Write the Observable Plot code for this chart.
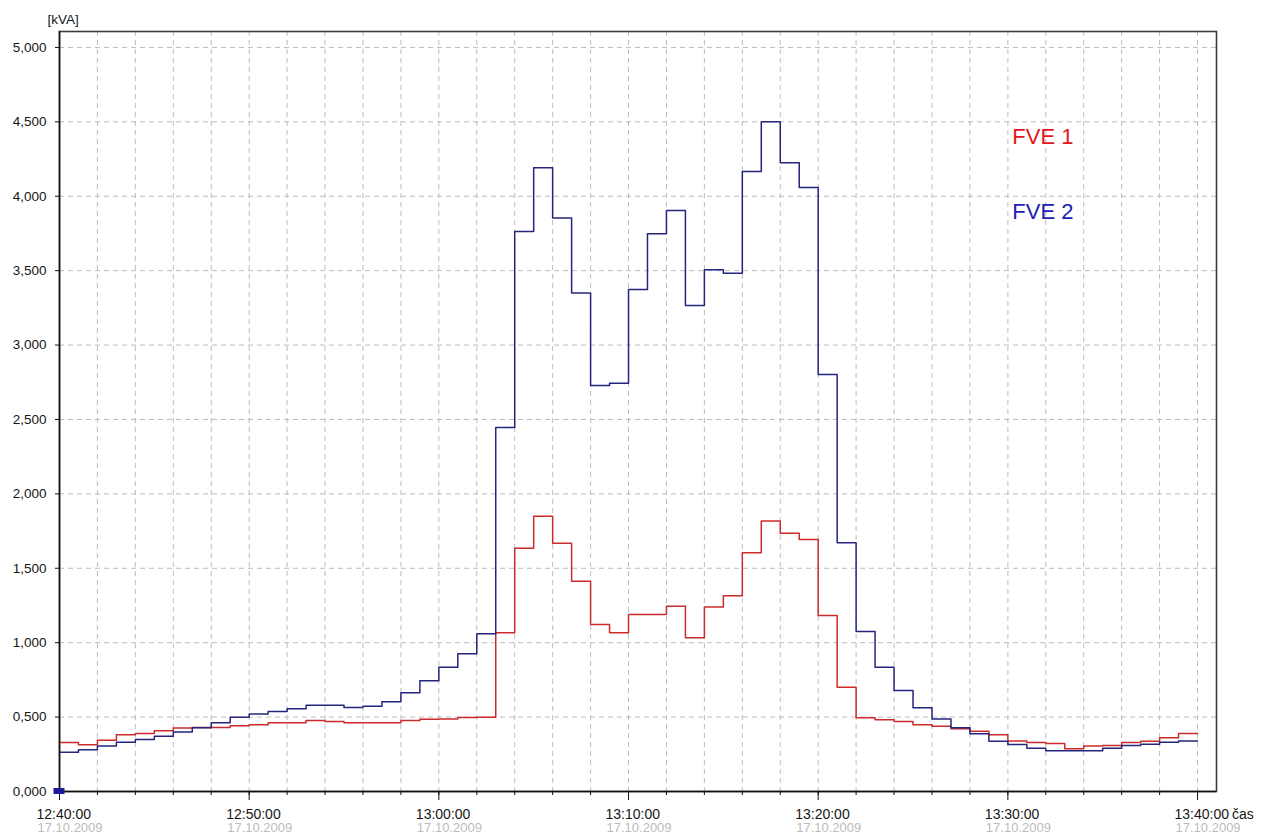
<!DOCTYPE html>
<html>
<head>
<meta charset="utf-8">
<script src="https://cdn.jsdelivr.net/npm/d3@7"></script>
<script src="https://cdn.jsdelivr.net/npm/@observablehq/plot@0.6"></script>
<style>
  html, body { margin: 0; padding: 0; background: #ffffff; }
  #chart svg { display: block; }
</style>
</head>
<body>
<div id="chart"></div>
<script>
// One-minute apparent power readings, 17.10.2009, 12:40 – 13:40
const startTime = "2009-10-17T12:40:00Z";
const stepMinutes = 1;

// FVE 1 (values in the axis unit, one per minute)
const fve1 = [
  0.329, 0.314, 0.345, 0.381, 0.390, 0.408, 0.426, 0.430, 0.430, 0.441,
  0.448, 0.462, 0.462, 0.477, 0.470, 0.462, 0.462, 0.462, 0.477, 0.486,
  0.488, 0.497, 0.499, 1.066, 1.635, 1.850, 1.669, 1.413, 1.122, 1.066,
  1.190, 1.190, 1.245, 1.033, 1.239, 1.315, 1.604, 1.817, 1.736, 1.694,
  1.183, 0.701, 0.495, 0.482, 0.470, 0.448, 0.439, 0.421, 0.405, 0.381,
  0.340, 0.329, 0.322, 0.287, 0.305, 0.309, 0.329, 0.338, 0.361, 0.390
];

// FVE 2
const fve2 = [
  0.264, 0.280, 0.305, 0.331, 0.349, 0.372, 0.399, 0.428, 0.462, 0.499,
  0.520, 0.538, 0.556, 0.580, 0.580, 0.565, 0.573, 0.603, 0.663, 0.744,
  0.835, 0.925, 1.060, 2.446, 3.763, 4.191, 3.853, 3.349, 2.728, 2.744,
  3.374, 3.748, 3.905, 3.266, 3.506, 3.483, 4.167, 4.500, 4.225, 4.059,
  2.802, 1.671, 1.075, 0.835, 0.679, 0.562, 0.488, 0.428, 0.388, 0.338,
  0.316, 0.291, 0.273, 0.273, 0.273, 0.291, 0.309, 0.318, 0.331, 0.340
];

const seriesNames = ["FVE 1", "FVE 2"];
const yTicks = [0, 0.5, 1, 1.5, 2, 2.5, 3, 3.5, 4, 4.5, 5];
const unitLabel = "[kVA]";
const timeAxisLabel = "čas";
const dateLabel = "17.10.2009";
const cursorMark = [{ t: startTime, v: 0 }];

// ---- build tables ----
const t0 = new Date(startTime);
const at = (m) => new Date(+t0 + m * 60000);

function stepRows(name, values) {
  const rows = values.map((v, i) => ({ series: name, t: at(i * stepMinutes), v }));
  // close the last interval at its end time
  rows.push({ series: name, t: at(values.length * stepMinutes), v: values[values.length - 1] });
  return rows;
}
const rows1 = stepRows(seriesNames[0], fve1);
const rows2 = stepRows(seriesNames[1], fve2);

const minorTicks = d3.utcMinute.every(2).range(t0, at(61));
const majorTicks = d3.utcMinute.every(10).range(t0, at(61));
const gridTimes = minorTicks.filter(d => +d > +t0);

const fmtY = d => d3.format(".3f")(d).replace(".", ",");
const fmtT = d3.utcFormat("%H:%M:%S");

const red = "#cc2b2b";
const navy = "#25257f";
const gridStyle = { stroke: "#bdbdbd", strokeOpacity: 1, strokeWidth: 1, strokeDasharray: "5,4" };

const chart = Plot.plot({
  width: 1265,
  height: 834,
  marginLeft: 59,
  marginRight: 49,
  marginTop: 31,
  marginBottom: 43,
  style: {
    fontFamily: "'Liberation Sans', Arial, sans-serif",
    fontSize: "13.5px",
    color: "#161616",
    background: "#ffffff",
    overflow: "visible"
  },
  x: { type: "utc", domain: [t0, at(61)] },
  y: { domain: [0, 5.107] },
  marks: [
    Plot.gridX(gridTimes, gridStyle),
    Plot.gridY(yTicks.filter(d => d > 0), gridStyle),
    Plot.frame({ stroke: "#3c3c3c", strokeWidth: 1.6 }),
    Plot.line(rows1, { x: "t", y: "v", curve: "step-after", stroke: red, strokeWidth: 1.5 }),
    Plot.line(rows2, { x: "t", y: "v", curve: "step-after", stroke: navy, strokeWidth: 1.5 }),
    Plot.ruleX([t0], { stroke: "#111", strokeWidth: 1.5 }),
    Plot.ruleY([0], { stroke: "#111", strokeWidth: 1.5 }),
    Plot.axisY({ ticks: yTicks, tickFormat: fmtY, tickSize: 4, tickPadding: 9, label: null, stroke: "#111" }),
    Plot.axisX({ ticks: minorTicks, tickSize: 4, tickFormat: () => "", label: null, stroke: "#111" }),
    Plot.axisX({ ticks: majorTicks, tickSize: 9, tickFormat: () => "", label: null, stroke: "#111" }),
    // two-line time labels: clock time, then the date in grey
    Plot.text(majorTicks, { x: d => d, frameAnchor: "bottom", textAnchor: "start", lineAnchor: "bottom", dx: -23, dy: 27, text: d => fmtT(d), fill: "#161616", fontSize: 14 }),
    Plot.text(majorTicks, { x: d => d, frameAnchor: "bottom", textAnchor: "start", lineAnchor: "bottom", dx: -22, dy: 40.5, text: () => dateLabel, fill: "#bcbcbc", fontSize: 13 }),
    Plot.text([timeAxisLabel], { frameAnchor: "bottom-right", textAnchor: "start", lineAnchor: "bottom", dx: 15.5, dy: 27, text: d => d, fontSize: 14 }),
    Plot.text([unitLabel], { frameAnchor: "top-left", textAnchor: "start", lineAnchor: "bottom", dx: -12, dy: -7.5, text: d => d }),
    Plot.rect(cursorMark, {
      x1: d => new Date(d.t), x2: d => new Date(d.t), y1: "v", y2: "v",
      insetLeft: -5.5, insetRight: -5.5, insetTop: -3, insetBottom: -3, fill: "#1a1a9a"
    }),
    Plot.text([seriesNames[0]], { frameAnchor: "top-right", textAnchor: "end", lineAnchor: "bottom", dx: -143, dy: 112, text: d => d, fill: "#e0161c", fontSize: 22 }),
    Plot.text([seriesNames[1]], { frameAnchor: "top-right", textAnchor: "end", lineAnchor: "bottom", dx: -143, dy: 187, text: d => d, fill: "#1c20b2", fontSize: 22 })
  ]
});

document.getElementById("chart").appendChild(chart);
</script>
</body>
</html>
